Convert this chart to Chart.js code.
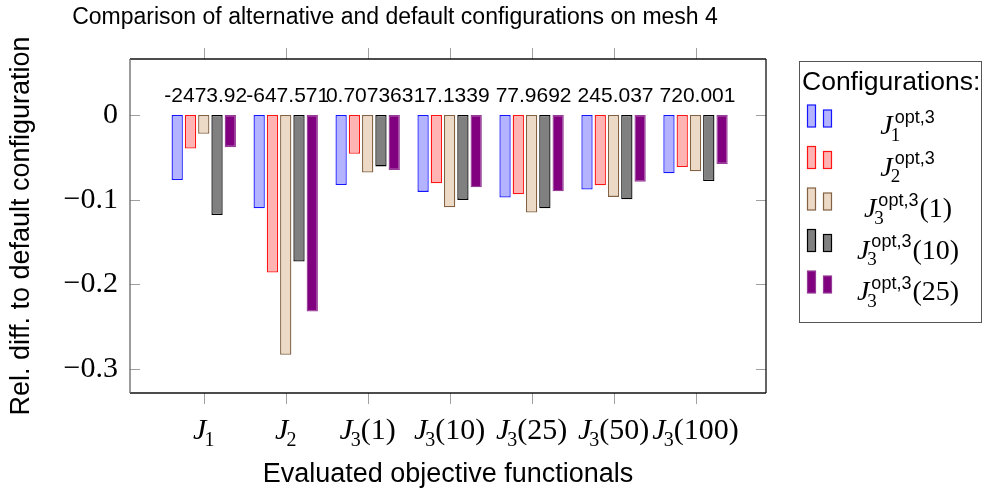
<!DOCTYPE html>
<html>
<head>
<meta charset="utf-8">
<script src="https://cdn.jsdelivr.net/npm/chart.js@4.4.0/dist/chart.umd.min.js"></script>
<style>
  html, body { margin: 0; padding: 0; background: #fff; }
  canvas { display: block; }
</style>
</head>
<body>
<canvas id="chart" width="984" height="493"></canvas>
<script>
const plotTitle = 'Comparison of alternative and default configurations on mesh 4';
const categories = ['J_1', 'J_2', 'J_3(1)', 'J_3(10)', 'J_3(25)', 'J_3(50)', 'J_3(100)'];
const groupNotes = ['-2473.92', '-647.571', '0.707363', '17.1339', '77.9692', '245.037', '720.001'];
const seriesNames = ['J_1^opt,3', 'J_2^opt,3', 'J_3^opt,3(1)', 'J_3^opt,3(10)', 'J_3^opt,3(25)'];

// one array per configuration, one value per evaluated functional
const cfgJ1 = [-0.0767, -0.110, -0.0826, -0.0908, -0.0975, -0.0880, -0.0689];
const cfgJ2 = [-0.0395, -0.186, -0.0458, -0.0806, -0.0936, -0.0830, -0.0615];
const cfgJ3a = [-0.0223, -0.283, -0.0680, -0.1088, -0.1150, -0.0967, -0.0665];
const cfgJ3b = [-0.1180, -0.173, -0.0607, -0.1002, -0.1100, -0.0994, -0.0780];
const cfgJ3c = [-0.0380, -0.232, -0.0650, -0.0853, -0.0900, -0.0787, -0.0580];

const yTicks = [0, -0.1, -0.2, -0.3];

const fillColors = ['rgb(179,179,255)', 'rgb(255,179,179)', 'rgb(236,217,198)', 'rgb(128,128,128)', 'rgb(128,0,128)'];
const lineColors = ['rgb(20,20,255)', 'rgb(255,20,20)', 'rgb(130,98,66)', 'rgb(0,0,0)', 'rgb(150,60,150)'];

const allSeries = [cfgJ1, cfgJ2, cfgJ3a, cfgJ3b, cfgJ3c];

const SERIF = '"Liberation Serif", "Times New Roman", serif';
const SANS = '"Liberation Sans", Arial, sans-serif';

function parseMath(label) {
    const m = label.match(/^J_(\d+)(?:\^([^()]+))?(?:\((.*)\))?$/);
    return { sub: m[1], sup: m[2] || '', arg: m[3] || '' };
}

// draws J_sub^sup(arg) centred on cx
function drawMath(ctx, label, cx, base, size) {
    const p = parseMath(label);
    const fJ = 'italic ' + size + 'px ' + SERIF;
    const fSub = Math.round(size * 0.68) + 'px ' + SERIF;
    const fSup = Math.round(size * 0.66) + 'px ' + SANS;
    const fArg = size + 'px ' + SERIF;
    ctx.font = fJ;
    const wJ = ctx.measureText('J').width;
    ctx.font = fSub;
    const wSub = ctx.measureText(p.sub).width - 2;
    ctx.font = fSup;
    const wSup = p.sup ? ctx.measureText(p.sup).width + 3 : 0;
    ctx.font = fArg;
    const argText = p.arg ? '(' + p.arg + ')' : '';
    const wArg = argText ? ctx.measureText(argText).width : 0;
    const script = Math.max(wSub, wSup);
    const total = wJ + script + wArg;
    const x0 = cx - total / 2;
    ctx.textAlign = 'left';
    ctx.textBaseline = 'alphabetic';
    ctx.font = fJ;
    ctx.fillText('J', x0, base);
    ctx.font = fSub;
    ctx.fillText(p.sub, x0 + wJ - 2, base + size * 0.24);
    if (p.sup) {
        ctx.font = fSup;
        ctx.fillText(p.sup, x0 + wJ + 2, base - size * 0.4);
    }
    if (argText) {
        ctx.font = fArg;
        ctx.fillText(argText, x0 + wJ + script, base);
    }
}

function line(ctx, x1, y1, x2, y2) {
    ctx.beginPath();
    ctx.moveTo(x1, y1);
    ctx.lineTo(x2, y2);
    ctx.stroke();
}

const overlay = {
    id: 'overlay',
    afterDraw(chart) {
        const { ctx, chartArea: a, scales: { x, y } } = chart;
        ctx.save();

        ctx.fillStyle = '#000';
        ctx.font = '23px ' + SANS;
        ctx.textAlign = 'center';
        ctx.textBaseline = 'middle';
        ctx.fillText(plotTitle, 395, 18);

        // tick marks
        ctx.strokeStyle = '#a0a0a0';
        ctx.lineWidth = 1;
        yTicks.forEach(v => {
            const py = Math.round(y.getPixelForValue(v)) + 0.5;
            line(ctx, a.left, py, a.left + 10, py);
            line(ctx, a.right - 10, py, a.right, py);
        });
        categories.forEach((c, i) => {
            const px = Math.round(x.getPixelForValue(i)) + 0.5;
            line(ctx, px, a.top - 11, px, a.top);
            line(ctx, px, a.bottom, px, a.bottom + 11);
        });

        // frame
        ctx.lineWidth = 1.3;
        ctx.strokeStyle = '#111';
        line(ctx, a.left, a.top, a.right, a.top);
        line(ctx, a.right, a.top, a.right, a.bottom);
        line(ctx, a.left, a.bottom, a.right, a.bottom);
        ctx.strokeStyle = '#666';
        line(ctx, a.left, a.top, a.left, a.bottom);

        // notes above each group
        ctx.fillStyle = '#000';
        ctx.font = '21px ' + SANS;
        ctx.textAlign = 'center';
        ctx.textBaseline = 'middle';
        groupNotes.forEach((n, i) => ctx.fillText(n, x.getPixelForValue(i) + 2, 96));

        // category labels
        categories.forEach((c, i) => drawMath(ctx, c, x.getPixelForValue(i), 439, 30));

        // legend
        ctx.strokeStyle = '#555';
        ctx.lineWidth = 1;
        ctx.strokeRect(799.5, 61.5, 182, 261);
        ctx.fillStyle = '#000';
        ctx.font = '26.5px ' + SANS;
        ctx.textAlign = 'left';
        ctx.textBaseline = 'middle';
        ctx.fillText('Configurations:', 802, 83);
        seriesNames.forEach((s, i) => {
            const b = 134 + 41.5 * i;
            ctx.fillStyle = fillColors[i];
            ctx.strokeStyle = lineColors[i];
            ctx.lineWidth = 1.2;
            ctx.fillRect(807.5, b - 29, 8, 22);
            ctx.strokeRect(807.5, b - 29, 8, 22);
            ctx.fillRect(823.5, b - 24, 8, 17);
            ctx.strokeRect(823.5, b - 24, 8, 17);
            ctx.fillStyle = '#000';
            drawMath(ctx, s, 908, b, 28);
        });
        ctx.restore();
    }
};

const datasets = allSeries.map((vals, k) => ({
    label: seriesNames[k],
    data: vals.map((v, i) => ({ x: i, y: v })),
    backgroundColor: fillColors[k],
    borderColor: lineColors[k],
    borderWidth: 1.3,
    borderSkipped: false,
    categoryPercentage: 0.81,
    barPercentage: 0.85,
}));

new Chart(document.getElementById('chart'), {
    type: 'bar',
    data: { datasets: datasets },
    options: {
        responsive: false,
        animation: false,
        layout: { padding: { top: 59, left: 0, right: 218, bottom: 0 } },
        plugins: {
            legend: { display: false },
            title: { display: false },
            tooltip: { enabled: false },
        },
        scales: {
            x: {
                type: 'linear',
                offset: false,
                min: -0.9,
                max: 6.86,
                grid: { display: false },
                border: { display: false },
                ticks: { display: false, stepSize: 1, includeBounds: false },
                title: {
                    display: true,
                    text: 'Evaluated objective functionals',
                    color: '#000',
                    font: { family: SANS, size: 27 },
                    padding: { top: 0, bottom: 2 },
                },
                afterFit: s => { s.height = 100; },
            },
            y: {
                min: -0.328,
                max: 0.066,
                grid: { display: false, drawTicks: false },
                border: { display: false },
                ticks: {
                    stepSize: 0.1,
                    includeBounds: false,
                    padding: 12,
                    color: '#000',
                    font: { family: SERIF, size: 30 },
                    callback: v => {
                        const r = Math.round(v * 10) / 10;
                        return r === 0 ? '0' : (r < 0 ? '\u2212' : '') + Math.abs(r).toFixed(1);
                    },
                },
                title: {
                    display: true,
                    text: 'Rel. diff. to default configuration',
                    color: '#000',
                    font: { family: SANS, size: 27 },
                    padding: { top: 5, bottom: 0 },
                },
                afterFit: s => { s.width = 130; },
            },
        },
    },
    plugins: [overlay],
});
</script>
</body>
</html>
